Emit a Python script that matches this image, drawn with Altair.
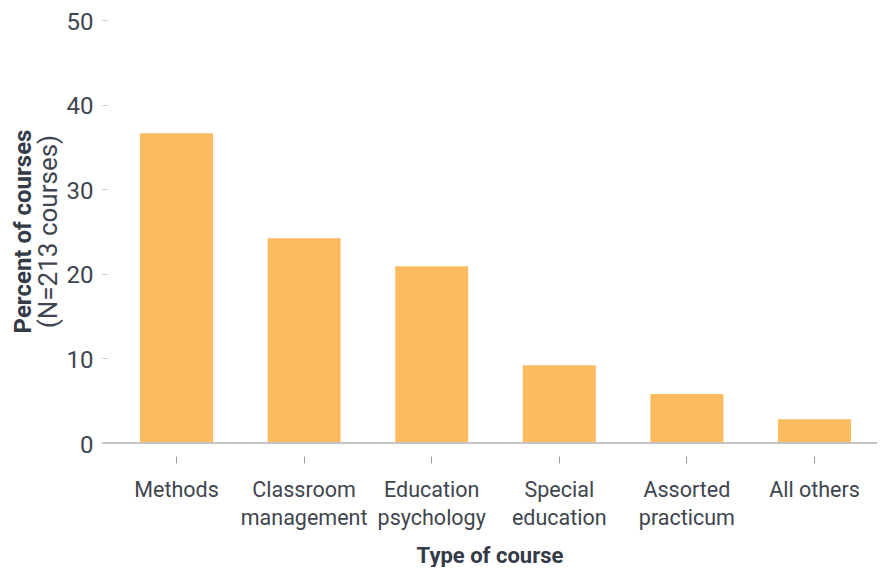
import altair as alt
import pandas as pd

categories = ["Methods", "Classroom management", "Education psychology",
              "Special education", "Assorted practicum", "All others"]
percents = [36.6, 24.2, 20.9, 9.2, 5.8, 2.8]
y_ticks = [0, 10, 20, 30, 40, 50]

df = pd.DataFrame({"course": categories, "percent": percents})
zero = pd.DataFrame({"zero": [0]})

label_color = "#40454f"
title_color = "#343a46"

bars = alt.Chart(df).mark_bar(color="#FBBB5E").encode(
    x=alt.X(
        "course:N", sort=categories,
        scale=alt.Scale(paddingInner=0.428, paddingOuter=0.251, align=0.594),
        axis=alt.Axis(
            title="Type of course", domain=False, offset=13, tickSize=7,
            tickColor="#9a9a9a", tickWidth=1, labelAngle=0, labelFontSize=21.5,
            labelFont="Roboto", labelColor=label_color,
            labelLineHeight=28, labelPadding=16,
            labelExpr="datum.label == 'All others' ? datum.label : split(datum.label, ' ')",
            titleFont="Roboto", titleFontSize=22,
            titleFontWeight="bold", titleColor=title_color, titlePadding=17,
        ),
    ),
    y=alt.Y(
        "percent:Q", scale=alt.Scale(domain=[0, 50], nice=False),
        axis=alt.Axis(
            values=y_ticks, title=None, domain=False, grid=False, offset=-5,
            tickSize=5, tickColor="#c8c8c8", labelPadding=9, labelFontSize=24,
            labelFont="Roboto", labelColor=label_color, labelOffset=2,
        ),
    ),
)

rule = alt.Chart(zero).mark_rule(color="#c4c4c4", strokeWidth=2).encode(y="zero:Q")

chart = alt.layer(bars, rule).properties(
    width=775, height=423,
    autosize="none",
    padding={"left": 94, "top": 12, "right": 0, "bottom": 124},
    title=alt.TitleParams(
        text="Percent of courses", subtitle="(N=213 courses)", orient="left",
        anchor="middle", font="Roboto", fontSize=24, fontWeight="bold",
        color=title_color, subtitleFont="Roboto", subtitleFontSize=26,
        subtitleColor=label_color, subtitlePadding=0, offset=4,
    ),
).configure(background="white").configure_view(stroke=None)

chart.save("out.html", embed_options={"renderer": "svg", "actions": False})
